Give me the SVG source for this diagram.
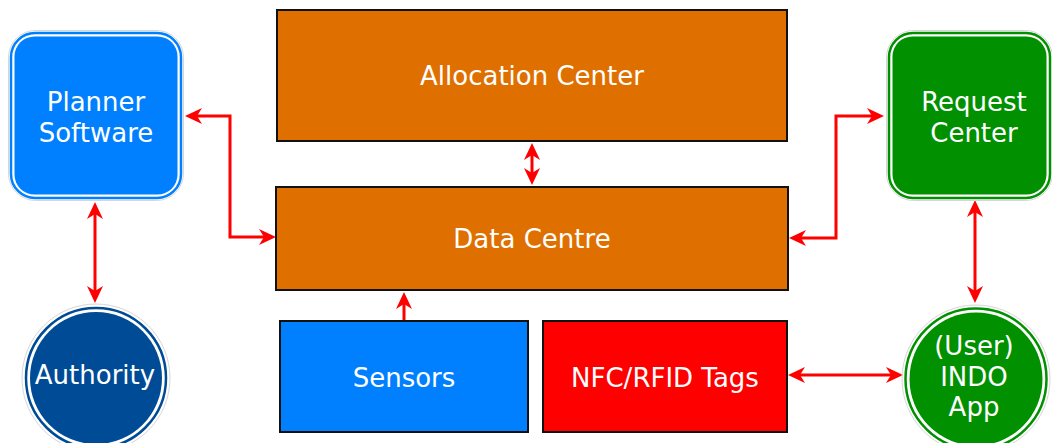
<svg xmlns="http://www.w3.org/2000/svg" width="1052" height="443" viewBox="0 0 1052 443">
  <style>
    .lbl { font-family: "DejaVu Sans", Verdana, sans-serif; font-size: 26px; fill: #ffffff; text-anchor: middle; }
    .box { stroke: #111111; stroke-width: 2; }
    .halo { fill: none; stroke: #d6d6d6; stroke-width: 1; }
    .ring { fill: none; stroke-width: 2.5; }
    .orange { fill: #df7000; }
    .blue { fill: #0080ff; }
    .red { fill: #ff0000; }
    .link { fill: none; stroke: #ff0000; stroke-width: 3; }
  </style>
  <defs>
    <marker id="arrow" viewBox="0 -9 18 18" refX="12" refY="0" markerWidth="18" markerHeight="18" markerUnits="userSpaceOnUse" orient="auto-start-reverse">
      <path d="M0,-8 L17,0 L0,8 L5,0 Z" fill="#ff0000"/>
    </marker>
  </defs>

  <!-- connectors -->
  <g id="connectors">
    <path class="link" d="M190,116 H230 V237 H271" marker-start="url(#arrow)" marker-end="url(#arrow)"/>
    <path class="link" d="M794,238 H836 V116 H879" marker-start="url(#arrow)" marker-end="url(#arrow)"/>
    <path class="link" d="M532,148 V180" marker-start="url(#arrow)" marker-end="url(#arrow)"/>
    <path class="link" d="M404,320 V297" marker-end="url(#arrow)"/>
    <path class="link" d="M793,375 H898" marker-start="url(#arrow)" marker-end="url(#arrow)"/>
    <path class="link" d="M95,207 V298" marker-start="url(#arrow)" marker-end="url(#arrow)"/>
    <path class="link" d="M975,205 V298" marker-start="url(#arrow)" marker-end="url(#arrow)"/>
  </g>

  <g id="allocation-center">
    <rect class="box orange" x="277" y="10" width="510" height="131"/>
    <text class="lbl" x="532" y="85">Allocation Center</text>
  </g>

  <g id="data-centre">
    <rect class="box orange" x="276" y="187" width="512" height="103"/>
    <text class="lbl" x="532" y="248">Data Centre</text>
  </g>

  <g id="sensors">
    <rect class="box blue" x="280" y="321" width="248" height="111"/>
    <text class="lbl" x="404" y="387">Sensors</text>
  </g>

  <g id="nfc-rfid-tags">
    <rect class="box red" x="543" y="321" width="244" height="111"/>
    <text class="lbl" x="665" y="387">NFC/RFID Tags</text>
  </g>

  <g id="planner-software">
    <rect class="halo" x="8.5" y="30.5" width="175" height="170" rx="27"/>
    <rect class="ring" stroke="#0080ff" x="11" y="33" width="170" height="165" rx="24"/>
    <rect fill="#0080ff" x="14.5" y="36.5" width="163" height="158" rx="20"/>
    <text class="lbl" x="96" y="111">Planner</text>
    <text class="lbl" x="96" y="142">Software</text>
  </g>

  <g id="request-center">
    <rect class="halo" x="886.5" y="30.5" width="166" height="170" rx="27"/>
    <rect class="ring" stroke="#009000" x="889" y="33" width="161" height="165" rx="24"/>
    <rect fill="#009000" x="892.5" y="36.5" width="154" height="158" rx="20"/>
    <text class="lbl" x="974" y="111">Request</text>
    <text class="lbl" x="974" y="142">Center</text>
  </g>

  <g id="authority">
    <circle class="halo" cx="96" cy="378" r="74"/>
    <circle class="ring" stroke="#004b96" cx="96" cy="378" r="70"/>
    <circle fill="#004b96" cx="96" cy="378" r="66"/>
    <text class="lbl" x="95" y="384">Authority</text>
  </g>

  <g id="indo-app">
    <circle class="halo" cx="976" cy="379" r="74"/>
    <circle class="ring" stroke="#009000" cx="976" cy="379" r="70.5"/>
    <circle fill="#009000" cx="976" cy="379" r="66.5"/>
    <text class="lbl" x="974" y="355">(User)</text>
    <text class="lbl" x="974" y="386">INDO</text>
    <text class="lbl" x="974" y="416">App</text>
  </g>
</svg>
